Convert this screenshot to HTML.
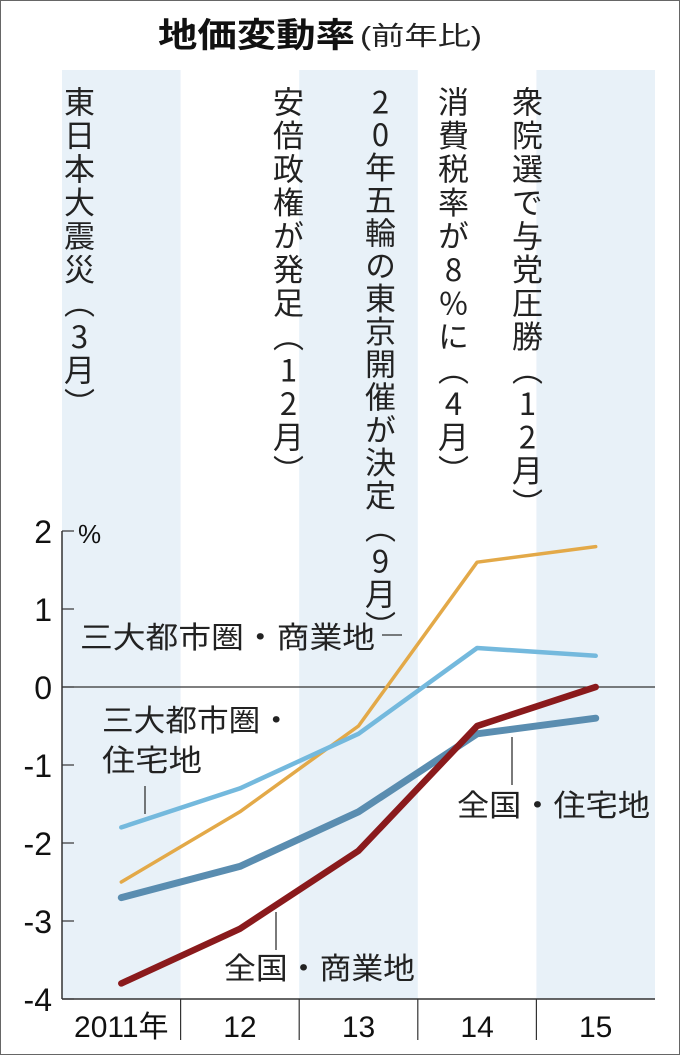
<!DOCTYPE html>
<html><head><meta charset="utf-8"><style>
html,body{margin:0;padding:0;background:#fff;}
body{width:680px;height:1055px;overflow:hidden;position:relative;font-family:"Liberation Sans","Noto Sans CJK JP",sans-serif;}
.vt{position:absolute;writing-mode:vertical-rl;text-orientation:upright;font-size:31px;letter-spacing:2.5px;color:#222;line-height:1;font-family:"Noto Sans CJK JP",sans-serif;}
</style></head><body>
<div style="position:absolute;left:0;top:0;width:678px;height:1053px;border:1px solid #666;"></div>
<svg id="chart" width="680" height="1055" style="position:absolute;left:0;top:0"></svg>
<div class="vt" style="left:64px;top:86px;">東日本大震災（3月）</div>
<div class="vt" style="left:273px;top:86px;">安倍政権が発足（12月）</div>
<div class="vt" style="left:365px;top:86px;letter-spacing:1.8px;">20年五輪の東京開催が決定（9月）</div>
<div class="vt" style="left:438px;top:86px;">消費税率が8%に（4月）</div>
<div class="vt" style="left:512px;top:86px;">衆院選で与党圧勝（12月）</div>
<script>
const categories=["2011年","12","13","14","15"];
const yTicks=[2,1,0,-1,-2,-3,-4];
const metroCommercial=[-2.5,-1.6,-0.5,1.6,1.8];
const metroResidential=[-1.8,-1.3,-0.6,0.5,0.4];
const nationResidential=[-2.7,-2.3,-1.6,-0.6,-0.4];
const nationCommercial=[-3.8,-3.1,-2.1,-0.5,0.0];
const NS="http://www.w3.org/2000/svg";
const svg=document.getElementById('chart');
const L=62,R=655,T=531,B=999,ymax=2,ymin=-4;
const bw=(R-L)/categories.length;
const x=i=>L+bw*(i+0.5);
const y=v=>T+(ymax-v)/(ymax-ymin)*(B-T);
const FF='"Liberation Sans","Noto Sans CJK JP",sans-serif';
function mk(tag,at){const e=document.createElementNS(NS,tag);for(const k in at)e.setAttribute(k,at[k]);svg.appendChild(e);return e;}
let t=mk('text',{x:158,y:47,'font-size':34,'font-weight':'bold',fill:'#111','font-family':FF,textLength:197,lengthAdjust:'spacingAndGlyphs'});
t.textContent='地価変動率';


t=mk('text',{x:360,y:45,'font-size':26,fill:'#222','font-family':FF,textLength:122,lengthAdjust:'spacingAndGlyphs'});
t.textContent='(前年比)';


categories.forEach((c,i)=>{if(i%2===0){const r=mk('rect',{x:L+bw*i,y:70,width:bw,height:B-70,fill:'#e8f1f8'});

}});
let a=mk('line',{x1:L,y1:T,x2:L,y2:B,stroke:'#333','stroke-width':1.5});


a=mk('line',{x1:L,y1:B,x2:R,y2:B,stroke:'#333','stroke-width':1.5});


a=mk('line',{x1:L,y1:y(0),x2:R,y2:y(0),stroke:'#333','stroke-width':1.2});


yTicks.forEach(v=>{
 const l=mk('line',{x1:L,y1:y(v),x2:L+12,y2:y(v),stroke:'#333','stroke-width':1.2});
 
 
 const tx=mk('text',{x:52,y:y(v)+12,'font-size':32,'text-anchor':'end',fill:'#111','font-family':'"Liberation Sans",sans-serif'});
 tx.textContent=String(v);
 
 
});
t=mk('text',{x:78,y:543,'font-size':26,fill:'#111','font-family':'"Liberation Sans",sans-serif'});t.textContent='%';


categories.forEach((c,i)=>{
 if(i>0){const d=mk('line',{x1:L+bw*i,y1:B,x2:L+bw*i,y2:1040,stroke:'#333','stroke-width':1.2});
 
 }
 const tx=mk('text',{x:x(i),y:1037,'font-size':30,'text-anchor':'middle',fill:'#111','font-family':FF});
 tx.textContent=c;
 
 
});
function series(data,color,w,name){
 const p=mk('polyline',{points:data.map((v,i)=>x(i)+','+y(v)).join(' '),fill:'none',stroke:color,'stroke-width':w,'stroke-linejoin':'round','stroke-linecap':'round'});
 
 
}
series(metroCommercial,'#e3a948',3.5,'line-metro-commercial');
series(metroResidential,'#74b9dd',4.5,'line-metro-residential');
series(nationResidential,'#5a8db0',7,'line-national-residential');
series(nationCommercial,'#8a1a1c',6.5,'line-national-commercial');
function lab(txt,xx,yy,w,name){const e=mk('text',{x:xx,y:yy,'font-size':30,fill:'#222','font-family':FF,textLength:w,lengthAdjust:'spacingAndGlyphs'});e.textContent=txt;

}
function ld(x1,y1,x2,y2){const e=mk('line',{x1,y1,x2,y2,stroke:'#333','stroke-width':1.3});

}
lab('三大都市圏・商業地',80,648,295,'label-metro-commercial');ld(382,635,402,635);
lab('三大都市圏・',102,731,190,'label-metro-residential-1');lab('住宅地',102,771,100,'label-metro-residential-2');ld(145,786,145,814);
lab('全国・住宅地',457,816,193,'label-national-residential');ld(512,737,512,785);
lab('全国・商業地',224,979,191,'label-national-commercial');ld(276,912,276,950);
</script>
</body></html>
